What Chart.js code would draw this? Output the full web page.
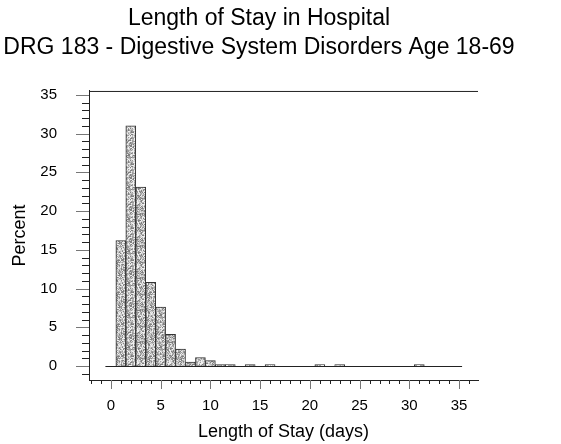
<!DOCTYPE html>
<html>
<head>
<meta charset="utf-8">
<script src="https://cdn.jsdelivr.net/npm/chart.js@4/dist/chart.umd.min.js"></script>
<style>
  body { margin: 0; background: #fff; }
  canvas { display: block; }
</style>
</head>
<body>
<canvas id="losChart" width="561" height="444"></canvas>
<script>
// length of stay (days) and percent of patients
const stayDays = [1, 2, 3, 4, 5, 6, 7, 8, 9, 10, 11, 12, 14, 16, 21, 23, 31];
const stayPercent = [16.2, 31.0, 23.1, 10.8, 7.6, 4.1, 2.2, 0.5, 1.1, 0.7, 0.2, 0.2, 0.2, 0.2, 0.2, 0.2, 0.2];

const xTickLabels = [0, 5, 10, 15, 20, 25, 30, 35];
const yTickLabels = [0, 5, 10, 15, 20, 25, 30, 35];

const xMinorTicks = [];
for (let v = -2; v <= 36; v++) xMinorTicks.push(v);
const yMinorTicks = [];
for (let v = -1; v <= 35; v++) yMinorTicks.push(v);

const FONT = '"Liberation Sans", Arial, Helvetica, sans-serif';

// integer hash, used only for the speckle texture
function mix(k) {
  k = k >>> 0;
  k ^= k >>> 16; k = Math.imul(k, 0x7feb352d);
  k ^= k >>> 15; k = Math.imul(k, 0x846ca68b);
  k ^= k >>> 16;
  return k >>> 0;
}

// speckled grey fill for the bars
function stipple() {
  const n = 32;
  const c = document.createElement('canvas');
  c.width = n; c.height = n;
  const g = c.getContext('2d');
  for (let y = 0; y < n; y++) {
    for (let x = 0; x < n; x++) {
      const s = 128 + (mix(y * n + x + 17) % 5) * 28;
      g.fillStyle = 'rgb(' + s + ',' + s + ',' + s + ')';
      g.fillRect(x, y, 1, 1);
    }
  }
  return g.createPattern(c, 'repeat');
}

const frameTicks = {
  id: 'frameTicks',
  beforeDatasetsDraw(chart) {
    const {ctx, scales: {x, y}} = chart;
    // zero reference line under the bars
    ctx.save();
    ctx.strokeStyle = '#222';
    ctx.lineWidth = 1;
    const y0 = Math.round(y.getPixelForValue(0)) + 0.5;
    ctx.beginPath();
    ctx.moveTo(x.getPixelForValue(-0.55), y0);
    ctx.lineTo(x.getPixelForValue(35.3), y0);
    ctx.stroke();
    ctx.restore();
  },
  afterDraw(chart) {
    const {ctx, chartArea: a, scales: {x, y}} = chart;
    ctx.save();
    ctx.lineWidth = 1;
    // top edge of the frame
    ctx.strokeStyle = '#222';
    ctx.beginPath();
    ctx.moveTo(a.left, a.top + 0.5);
    ctx.lineTo(a.right, a.top + 0.5);
    ctx.stroke();
    // tick marks
    xMinorTicks.forEach(v => {
      const major = v % 5 === 0;
      const px = Math.round(x.getPixelForValue(v)) + 0.5;
      ctx.strokeStyle = major ? '#777' : '#222';
      ctx.beginPath();
      ctx.moveTo(px, a.bottom);
      ctx.lineTo(px, a.bottom + (major ? 9 : 4));
      ctx.stroke();
    });
    yMinorTicks.forEach(v => {
      const major = v % 5 === 0;
      const py = Math.round(y.getPixelForValue(v)) + 0.5;
      ctx.strokeStyle = major ? '#777' : '#222';
      ctx.beginPath();
      ctx.moveTo(a.left, py);
      ctx.lineTo(a.left - (major ? 13 : 7), py);
      ctx.stroke();
    });
    ctx.restore();
  }
};

const ctx = document.getElementById('losChart');

new Chart(ctx, {
  type: 'bar',
  data: {
    datasets: [{
      label: 'Percent',
      data: stayDays.map((d, i) => ({x: d, y: stayPercent[i]})),
      backgroundColor: stipple(),
      borderColor: '#333',
      borderWidth: 1,
      barPercentage: 1,
      categoryPercentage: 1
    }]
  },
  options: {
    responsive: false,
    devicePixelRatio: 1,
    animation: false,
    layout: { padding: { left: 0, right: 43, top: 0, bottom: 0 } },
    plugins: {
      legend: { display: false },
      tooltip: { enabled: false },
      title: {
        display: true,
        text: ['Length of Stay in Hospital', 'DRG 183 - Digestive System Disorders Age 18-69'],
        color: '#000',
        font: { family: FONT, size: 23, weight: 'normal', lineHeight: 1.26 },
        padding: { top: 4.5, bottom: 28.5 }
      }
    },
    scales: {
      x: {
        type: 'linear',
        offset: false,
        min: -2.2,
        max: 36.9,
        afterBuildTicks: s => { s.ticks = xTickLabels.map(v => ({value: v})); },
        afterFit: s => { s.height = 64; },
        grid: { display: false, drawTicks: false },
        border: { display: true, color: '#222', width: 1 },
        ticks: {
          color: '#000',
          padding: 17,
          maxRotation: 0,
          font: { family: FONT, size: 15 },
          callback: v => String(v)
        },
        title: {
          display: true,
          text: 'Length of Stay (days)',
          color: '#000',
          font: { family: FONT, size: 18, lineHeight: 1.2 },
          padding: { top: 0, bottom: 1 }
        }
      },
      y: {
        min: -1.8,
        max: 35.5,
        afterBuildTicks: s => { s.ticks = yTickLabels.map(v => ({value: v})); },
        afterFit: s => { s.width = 89; },
        grid: { display: false, drawTicks: false },
        border: { display: true, color: '#222', width: 1 },
        ticks: {
          color: '#000',
          padding: 32,
          font: { family: FONT, size: 15 },
          callback: v => String(v)
        },
        title: {
          display: true,
          text: 'Percent',
          color: '#000',
          font: { family: FONT, size: 18 },
          padding: { top: 9, bottom: 0 }
        }
      },
      // empty strip to the right of the frame
      gutter: {
        position: 'right',
        afterFit: s => { s.width = 40; },
        grid: { display: false, drawTicks: false },
        border: { display: false },
        ticks: { display: false }
      }
    }
  },
  plugins: [frameTicks]
});
</script>
</body>
</html>
